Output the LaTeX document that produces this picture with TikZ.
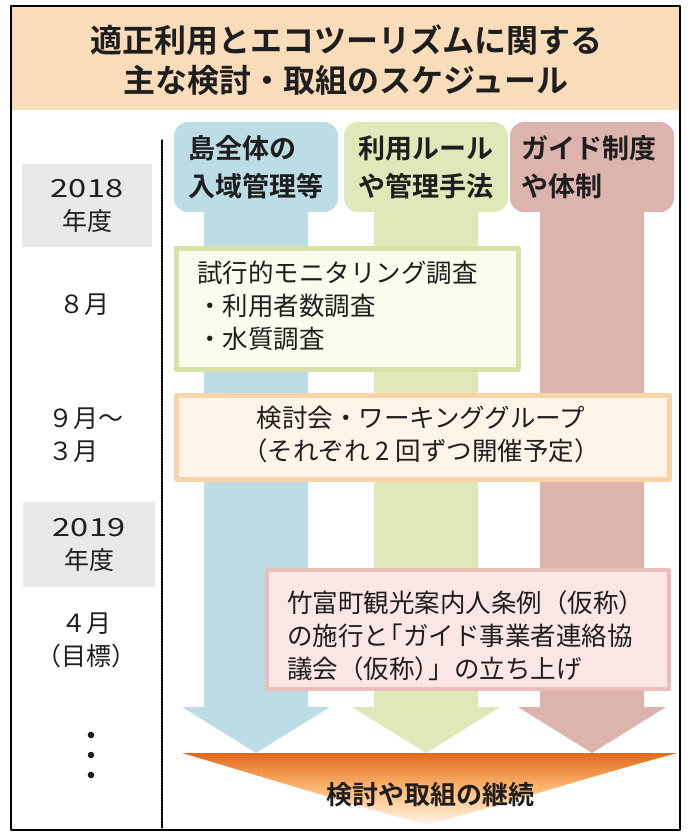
\documentclass[tikz,border=0pt]{standalone}
\usepackage{fontspec}
\setmainfont{Noto Sans CJK JP}[BoldFont={Noto Sans CJK JP Bold}]
\usetikzlibrary{calc,positioning}

\definecolor{titlebg}{HTML}{F9DCB9}
\definecolor{colblue}{HTML}{BCDDE6}
\definecolor{colgreen}{HTML}{DEE8B9}
\definecolor{colred}{HTML}{DDB3AD}
\definecolor{yearbg}{HTML}{E9E9E9}
\definecolor{greenedge}{HTML}{D6E2A6}
\definecolor{greenfill}{HTML}{FAFCEE}
\definecolor{orangeedge}{HTML}{F9D4A8}
\definecolor{orangefill}{HTML}{FEF4E8}
\definecolor{pinkedge}{HTML}{EBBDBD}
\definecolor{pinkfill}{HTML}{FBE6E6}
\definecolor{deeporange}{HTML}{E2691E}
\definecolor{inkgray}{HTML}{1E1E1E}

\begin{document}
\begin{tikzpicture}[x=1pt, y=-1pt, line cap=round, line join=round,
    titletext/.style={font=\bfseries\fontsize{32}{40}\selectfont, align=center, text=inkgray, inner sep=0pt},
    headtext/.style={font=\bfseries\fontsize{27}{38}\selectfont, align=left, anchor=west, text=inkgray, inner sep=0pt},
    bodytext/.style={font=\fontsize{25.5}{33}\selectfont, align=left, text=inkgray, inner sep=0pt},
    sidetext/.style={font=\fontsize{25}{33}\selectfont, align=center, text=inkgray, inner sep=0pt}]
    \useasboundingbox (0,0) rectangle (691,834);

    % frame and title band
    \fill[titlebg] (12,7) rectangle (679,110);
    \draw[line width=1.8pt] (11,6) rectangle (680,830);
    \node[titletext] (title) at (346,60) {適正利用とエコツーリズムに関する\\主な検討・取組のスケジュール};

    % time axis
    \coordinate (axtop) at (162,140);
    \coordinate (axbot) at (162,828);
    \draw[dash pattern=on 2pt off 1pt, line width=1.2pt] (axtop) -- (axbot);

    % three column arrows
    \foreach \c/\col in {256/colblue, 426/colgreen, 592/colred}{
        \fill[\col] (\c-52,200) -- (\c-52,707) -- (\c-74,707) -- (\c,753)
            -- (\c+74,707) -- (\c+52,707) -- (\c+52,200) -- cycle;
        \fill[\col, rounded corners=14pt] (\c-82,122) rectangle (\c+82,212);
    }
    \node[headtext] (hdblue) at (188,167) {島全体の\\入域管理等};
    \node[headtext] (hdgreen) at (358,167) {利用ルール\\や管理手法};
    \node[headtext] (hdred) at (521,167) {ガイド制度\\や体制};

    % year boxes and months
    \fill[yearbg] (22,164) rectangle (152,247);
    \node[sidetext] (y2018) at (87,206) {\scalebox{1.3}[1]{2018}\\年度};
    \node[sidetext] (m8) at (84,305) {８月};
    \node[sidetext, align=left, anchor=west] (m9) at (48,435) {９月〜\\３月};
    \fill[yearbg] (23,502) rectangle (155,587);
    \node[sidetext] (y2019) at (89,545) {\scalebox{1.3}[1]{2019}\\年度};
    \node[sidetext] (m4) at (86,640) {４月\\（目標）};
    \foreach \yy in {735,755,775}
        \fill[inkgray] (91,\yy) circle[radius=3.3];

    % schedule boxes
    \draw[line width=5pt, greenedge, fill=greenfill] (176,248) rectangle (518,369);
    \node[bodytext, anchor=west] (monitor) at (197,306) {試行的モニタリング調査\\・利用者数調査\\・水質調査};
    \draw[line width=5pt, orangeedge, fill=orangefill] (176,395) rectangle (669,479);
    \node[bodytext, align=center] (meeting) at (421,435) {検討会・ワーキンググループ\\（それぞれ 2 回ずつ開催予定）};
    \draw[line width=4pt, pinkedge, fill=pinkfill] (267,570) rectangle (669,689);
    \node[bodytext, anchor=west] (guide) at (287,636) {竹富町観光案内人条例（仮称）\\の施行と\kern-.45em「ガイド事業者連絡協\\議会（仮称）\kern-.45em」の立ち上げ};

    % continuation chevron
    \coordinate (cvl) at (182,753);
    \coordinate (cvr) at (677,753);
    \coordinate (cvtip) at (427,824);
    \shade[top color=deeporange, bottom color=orangefill, middle color=orange!55]
        (cvl) -- (cvr) .. controls (560,785) and (470,815) .. (cvtip)
        .. controls (385,815) and (290,785) .. (cvl) -- cycle;
    \node[font=\bfseries\fontsize{26}{30}\selectfont, text=inkgray, inner sep=0pt] (cont) at (430,795) {検討や取組の継続};
\end{tikzpicture}
\end{document}
